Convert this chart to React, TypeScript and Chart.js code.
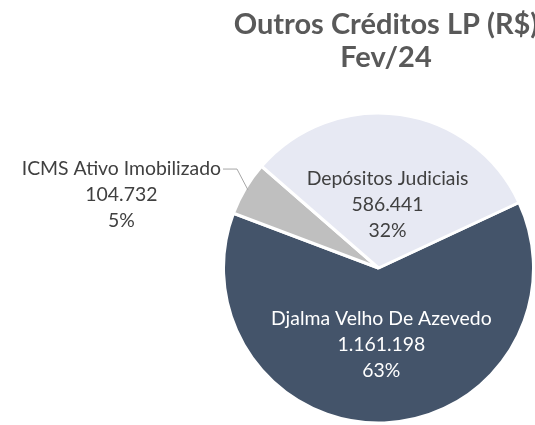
import React, { useEffect, useRef } from "react";
import { Chart, registerables } from "chart.js";

Chart.register(...registerables);

// ---- data ----
const categories = ["Djalma Velho De Azevedo", "ICMS Ativo Imobilizado", "Depósitos Judiciais"];
const values = [1161198, 104732, 586441];
const valueLabels = ["1.161.198", "104.732", "586.441"];
const percentLabels = ["63%", "5%", "32%"];
const titleLines = ["Outros Créditos LP (R$)", "Fev/24"];

// ---- styles ----
const sliceColors = ["#44546A", "#BFBFBF", "#E7E9F3"];
const labelColors = ["#FFFFFF", "#404040", "#404040"];
const labelFont = "19.4px Lato";
const titleFont = "bold 29px Lato";
const lineGap = 26;

const titlePlugin = {
  id: "customTitle",
  afterDraw(chart: any) {
    const ctx = chart.ctx;
    ctx.save();
    ctx.font = titleFont;
    ctx.fillStyle = "#595959";
    ctx.textAlign = "center";
    ctx.textBaseline = "alphabetic";
    titleLines.forEach((t, i) => ctx.fillText(t, 386, 34 + i * 33));
    ctx.restore();
  },
};

const labelPlugin = {
  id: "sliceLabels",
  afterDatasetsDraw(chart: any) {
    const ctx = chart.ctx;
    const meta = chart.getDatasetMeta(0);
    ctx.save();
    ctx.font = labelFont;
    ctx.textAlign = "center";
    ctx.textBaseline = "alphabetic";
    meta.data.forEach((arc: any, i: number) => {
      const p = arc.getProps(["x", "y", "startAngle", "endAngle", "outerRadius"], true);
      const mid = (p.startAngle + p.endAngle) / 2;
      const lines = [categories[i], valueLabels[i], percentLabels[i]];
      let cx: number;
      let cy: number;
      if (i === 1) {
        // outside label with leader line
        const ax = p.x + Math.cos(mid) * (p.outerRadius - 3);
        const ay = p.y + Math.sin(mid) * (p.outerRadius - 3);
        const ex = ax - 11;
        const ey = ay - 21;
        const lx = ex - 14;
        ctx.strokeStyle = "#A6A6A6";
        ctx.lineWidth = 1;
        ctx.beginPath();
        ctx.moveTo(ax, ay);
        ctx.lineTo(ex, ey);
        ctx.lineTo(lx, ey);
        ctx.stroke();
        const w = ctx.measureText(lines[0]).width;
        cx = lx - 2 - w / 2;
        cy = ey + 25;
      } else {
        const f = i === 0 ? 0.49 : 0.42;
        cx = p.x + Math.cos(mid) * p.outerRadius * f;
        cy = p.y + Math.sin(mid) * p.outerRadius * f;
      }
      ctx.fillStyle = labelColors[i];
      lines.forEach((t, k) => ctx.fillText(t, cx, cy + (k - 1) * lineGap + 7));
    });
    ctx.restore();
  },
};

export default function App() {
  const ref = useRef<HTMLCanvasElement | null>(null);
  useEffect(() => {
    if (!ref.current) return;
    const chart = new Chart(ref.current, {
      type: "pie",
      data: {
        labels: categories,
        datasets: [
          {
            data: values,
            backgroundColor: sliceColors,
            borderColor: "#FFFFFF",
            borderWidth: 3,
          },
        ],
      },
      options: {
        responsive: false,
        maintainAspectRatio: false,
        animation: false,
        rotation: 65,
        layout: { padding: { top: 111, bottom: 0, left: 222, right: 0 } },
        plugins: {
          legend: { display: false },
          tooltip: { enabled: false },
          title: { display: false },
        },
      },
      plugins: [titlePlugin, labelPlugin],
    });
    return () => chart.destroy();
  }, []);
  return (
    <div style={{ position: "absolute", left: 0, top: 0, width: 535, height: 425, background: "#fff", overflow: "hidden" }}>
      <canvas ref={ref} width={535} height={425} style={{ display: "block" }} />
    </div>
  );
}
